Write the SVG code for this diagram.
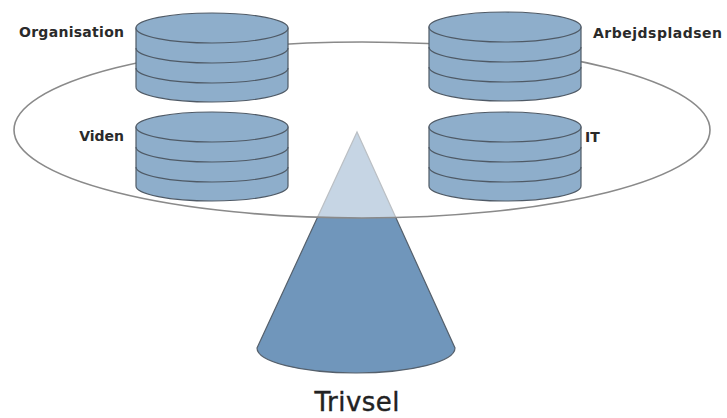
<svg xmlns="http://www.w3.org/2000/svg" width="727" height="418" viewBox="0 0 727 418">
  <defs>
    <style>
      .cyl { fill: #8eaecb; stroke: #4f5a66; stroke-width: 1.2; }
      .band { fill: none; stroke: #4f5a66; stroke-width: 1.2; }
      .lbl { font-family: "DejaVu Sans", "Liberation Sans", sans-serif; font-weight: bold; font-size: 14px; fill: #2a2a2a; }
      .title { font-family: "DejaVu Sans", "Liberation Sans", sans-serif; font-size: 26px; fill: #222; stroke: #222; stroke-width: 0.4; }
    </style>
    <!-- stacked disk: body, top face and two band lines; origin at top-face centre -->
    <g id="stack">
      <path class="cyl" d="M -76,0 L -76,59 A 76 15 0 0 0 76,59 L 76,0 Z"/>
      <ellipse class="cyl" cx="0" cy="0" rx="76" ry="15"/>
      <path class="band" d="M -76,20 A 76 15 0 0 0 76,20"/>
      <path class="band" d="M -76,40 A 76 15 0 0 0 76,40"/>
    </g>
  </defs>

  <rect width="727" height="418" fill="#ffffff"/>

  <!-- cone below the ring -->
  <g id="cone">
    <path d="M 257,348 L 357,132 L 455,348 A 99 25 0 0 1 257,348 Z" fill="#7096bb" stroke="#55606c" stroke-width="1.2"/>
  </g>

  <!-- translucent ring plane -->
  <g id="ring">
    <ellipse cx="362" cy="130" rx="348" ry="88" fill="#ffffff" fill-opacity="0.6" stroke="#8a8a8a" stroke-width="1.6"/>
  </g>

  <g id="organisation">
    <use href="#stack" x="212" y="28"/>
    <text class="lbl" x="124" y="37" text-anchor="end" textLength="105">Organisation</text>
  </g>
  <g id="viden">
    <use href="#stack" x="212" y="127"/>
    <text class="lbl" x="124" y="141" text-anchor="end">Viden</text>
  </g>
  <g id="arbejdspladsen">
    <use href="#stack" x="505" y="27"/>
    <text class="lbl" x="593" y="38" textLength="129">Arbejdspladsen</text>
  </g>
  <g id="it">
    <use href="#stack" x="505" y="127"/>
    <text class="lbl" x="585" y="142">IT</text>
  </g>

  <g id="trivsel">
    <text class="title" x="357" y="411" text-anchor="middle" textLength="85">Trivsel</text>
  </g>
</svg>
